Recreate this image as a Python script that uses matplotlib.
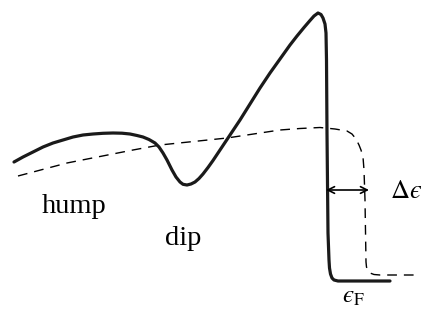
import matplotlib

matplotlib.use("Agg")
import matplotlib.pyplot as plt

# Traced curves of the schematic spectrum (x: energy, y: drawn downwards)
solid_x = [14, 23, 33, 43, 53, 63, 73, 83, 93, 103, 113, 122, 130, 137,
           143, 149, 155, 159, 163, 167, 172, 176, 180, 183, 187, 191, 195,
           199, 203, 208, 213, 218, 224, 230, 240, 250, 260, 270, 280, 290,
           297, 304, 310, 314, 318, 321, 323, 325, 326, 326.5, 327, 328, 329,
           329.5, 330.5, 332, 334, 338, 390]
solid_y = [162, 157, 152, 147, 143, 140, 137, 135, 134, 133.3, 133, 133.2,
           134, 135.5, 137, 139.5, 143, 147, 153, 160, 170, 177, 182, 184.3,
           185, 184, 182, 178.5, 174, 167.5, 160.5, 153, 144, 135, 120, 104,
           88, 73, 59, 45, 36, 27.5, 20.5, 16, 13, 14.5, 18, 24, 33, 60, 133,
           233, 260, 268, 274, 278, 280, 281, 281]

dash_x = [18, 67, 133, 160, 227, 280, 300, 320, 335, 347, 352, 356, 359,
          361, 363, 364, 365, 366, 366.5, 368, 370, 374, 380, 420]
dash_y = [176, 163, 150, 145, 138, 130, 128.5, 127.5, 129, 131, 134, 139,
          145, 150, 157, 170, 200, 262, 267, 271, 273, 274.5, 275, 275]

gap_x = [326, 369]
gap_y = 190

labels = ["hump", "dip"]
label_x = [42, 165]
label_y = [213, 245]

plt.rcParams["mathtext.fontset"] = "stix"

fig = plt.figure(figsize=(4.27, 3.09), dpi=100)
ax = fig.add_axes([0, 0, 1, 1])
ax.set_xlim(0, 427)
ax.set_ylim(309, 0)
ax.axis("off")

ax.plot(dash_x, dash_y, color="black", lw=1.0, ls=(0, (7, 5)))
ax.plot(solid_x, solid_y, color="#1a1a1a", lw=2.3,
        solid_joinstyle="round", solid_capstyle="round")

ax.annotate("", xy=(gap_x[1], gap_y), xytext=(gap_x[0], gap_y),
            arrowprops=dict(arrowstyle="<->", color="black", lw=1.2,
                            mutation_scale=12, shrinkA=0, shrinkB=0))

for txt, x, y in zip(labels, label_x, label_y):
    ax.text(x, y, txt, fontsize=20.5, family="Liberation Serif",
            ha="left", va="baseline")

# lunate epsilon (U+03F5) as in the original figure
ax.text(390, 191, "$\\Delta\u03f5$", fontsize=19, ha="left", va="center")
ax.text(342, 303, "$\u03f5_{\\mathrm{F}}$", fontsize=18, ha="left",
        va="baseline")

fig.savefig("out.png", dpi=100)
